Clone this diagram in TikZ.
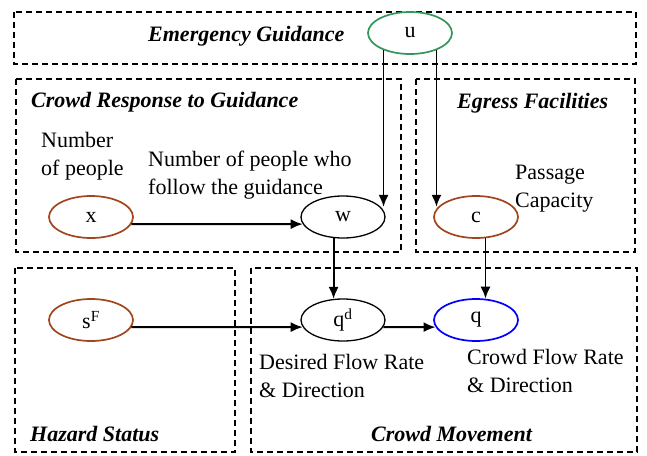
\documentclass[tikz,border=0pt]{standalone}
\usepackage{fontspec}
\setmainfont{Liberation Serif}
\usetikzlibrary{shapes.geometric,arrows.meta}
\definecolor{brun}{RGB}{160,70,30}
\definecolor{vert}{RGB}{50,150,90}
\begin{document}
\begin{tikzpicture}[x=1pt,y=-1pt,>={Latex[length=12pt,width=10pt]},
  font=\fontsize{22}{28}\selectfont,
  cadre/.style={draw,dash pattern=on 6pt off 4pt,line width=1.4pt},
  var/.style={ellipse,draw,line width=1.3pt,minimum width=84pt,
              minimum height=42pt,inner sep=0pt},
  titre/.style={font=\fontsize{22}{28}\selectfont\bfseries\itshape,
                inner sep=0pt,anchor=base west},
  texte/.style={align=left,inner sep=0pt,anchor=base west},
  fleche/.style={->,line width=1.8pt}]
\useasboundingbox (0,0) rectangle (647,455);
% les cadres
\draw[cadre] (14,12) rectangle (636,64);
\draw[cadre] (16,79) rectangle (401,252);
\draw[cadre] (416,79) rectangle (635,252);
\draw[cadre] (15,268) rectangle (235,452);
\draw[cadre] (251,268) rectangle (637,452);

\node[titre] (tEG) at (148,41) {Emergency Guidance};
\node[titre] (tCR) at (31,107) {Crowd Response to Guidance};
\node[titre] (tEF) at (457,108) {Egress Facilities};
\node[titre] (tHS) at (30,441) {Hazard Status};
\node[titre] (tCM) at (371,441) {Crowd Movement};

% les variables
\node[var,draw=vert,line width=1.7pt] (u) at (410,33) {u};
\node[var,draw=brun,line width=1.7pt] (x) at (91,217) {x};
\node[var] (w) at (343,217) {w};
\node[var,draw=brun,line width=1.7pt] (c) at (476,217) {c};
\node[var,draw=brun,line width=1.7pt] (sF) at (91,320) {s\textsuperscript{F}};
\node[var] (qd) at (343,320) {q\textsuperscript{d}};
\node[var,draw=blue,line width=1.7pt] (q) at (476,320) {q};

\node[texte] (lx) at (41,175) {Number\\of people};
\node[texte] (lw) at (148,194) {Number of people who\\follow the guidance};
\node[texte] (lc) at (515,207) {Passage\\Capacity};
\node[texte] (lqd) at (259,397) {Desired Flow Rate\\\& Direction};
\node[texte] (lq) at (467,392) {Crowd Flow Rate\\\& Direction};

% les fleches
\draw[fleche] (u.213) -- (u.213 |- w.15);
\draw[fleche] (u.327) -- (u.327 |- c.165);
\draw[fleche] (x.-10) -- (w.190);
\draw[fleche] (w.246) -- (qd.114);
\draw[fleche] (c.294) -- (q.66);
\draw[fleche] (sF.-10) -- (qd.190);
\draw[fleche] (qd.-10) -- (q.190);
\end{tikzpicture}
\end{document}
